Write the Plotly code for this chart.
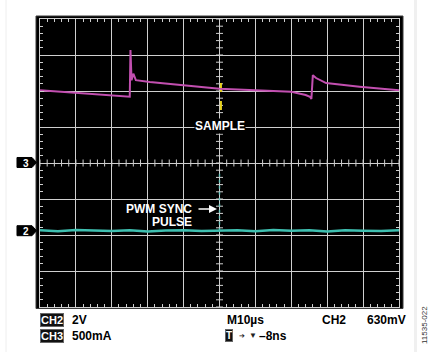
import plotly.graph_objects as go
import numpy as np

# ---------------- data ----------------
# time base: 10 us/div, trigger at screen centre
time_range_us = [-50, 50]

# CH3: inductor current (A), 500 mA/div
ch3_scale = 0.5
ch3_ref_div = 4.02
ch3_t_us = [-50, -40, -30, -27, -25.0, -24.8, -24.5, -24.0, -23.3, -19.4, -11, -5.4,
            0, 10, 20, 24, 25.2, 25.6, 26.0, 26.9, 29.7, 39, 43, 50]
ch3_amp = [1.00, 0.96, 0.93, 0.915, 0.91, 1.56, 1.14, 1.23, 1.14, 1.115, 1.07, 1.045,
           1.02, 1.00, 0.98, 0.935, 0.91, 0.88, 1.21, 1.17, 1.10, 1.05, 1.035, 1.00]

# CH2: PWM sync (V), 2 V/div
ch2_scale = 2.0
ch2_ref_div = 2.12
ch2_t_us = [-50, -45, -40, -35, -30, -25, -20, -15, -10, -5, 0, 5, 10, 15, 20, 25, 30, 35, 40, 45, 50]
ch2_volt = [0.02, -0.03, 0.04, 0.0, -0.02, 0.03, -0.04, 0.01, 0.03, -0.02, 0.0,
            0.02, -0.03, 0.04, -0.01, 0.02, -0.04, 0.03, 0.0, -0.02, 0.02]
pulse_t_us = [0, 0]
pulse_volt = [0, 3.3]

# sample marker
sample_t_us = [0.4, 0.4]
sample_div = [5.47, 6.31]

# ---------------- geometry helpers ----------------
L, R, T, B = 40, 399, 19, 307
W, H = 434, 352
def px(x):
    return (x - L) / (R - L)
def py(y):
    return (B - y) / (B - T)

FONT = "Liberation Sans, Arial, sans-serif"
GRID = "#cfcfcf"

fig = go.Figure()

# centre-line ticks
fig.add_trace(go.Scatter(x=np.arange(-50, 50.01, 2), y=[4] * 51, mode="markers",
                         marker=dict(symbol="line-ns", size=5, line=dict(width=1, color=GRID)),
                         hoverinfo="skip", showlegend=False))
fig.add_trace(go.Scatter(x=[0] * 41, y=np.arange(0, 8.01, 0.2), mode="markers",
                         marker=dict(symbol="line-ew", size=5, line=dict(width=1, color=GRID)),
                         hoverinfo="skip", showlegend=False))

# PWM sync pulse (faint)
fig.add_trace(go.Scatter(x=pulse_t_us, y=[ch2_ref_div + v / ch2_scale for v in pulse_volt],
                         mode="lines", line=dict(color="rgba(80,200,190,0.75)", width=1.5, dash="dot"),
                         hoverinfo="skip", showlegend=False))
# CH2 trace
fig.add_trace(go.Scatter(x=ch2_t_us, y=[ch2_ref_div + v / ch2_scale for v in ch2_volt],
                         mode="lines", line=dict(color="#3fbfb0", width=2.5),
                         showlegend=False))
# sample marker
fig.add_trace(go.Scatter(x=sample_t_us, y=sample_div, mode="lines",
                         line=dict(color="#e6d21e", width=2, dash="dash"), showlegend=False))
# CH3 trace
fig.add_trace(go.Scatter(x=ch3_t_us, y=[ch3_ref_div + a / ch3_scale for a in ch3_amp],
                         mode="lines", line=dict(color="#c24fb0", width=2), showlegend=False))

axis_common = dict(showgrid=True, gridcolor=GRID, gridwidth=1, zeroline=False,
                   showticklabels=False, showline=True, linecolor=GRID, linewidth=1,
                   mirror="ticks", ticks="inside", ticklen=4, tickcolor=GRID,
                   fixedrange=True)
fig.update_xaxes(range=time_range_us, dtick=10, tick0=0,
                 minor=dict(dtick=2, ticks="inside", ticklen=3, tickcolor=GRID, showgrid=False),
                 **axis_common)
fig.update_yaxes(range=[0, 8], dtick=1, tick0=0,
                 minor=dict(dtick=0.2, ticks="inside", ticklen=3, tickcolor=GRID, showgrid=False),
                 **axis_common)

shapes = []
# black scope frame
shapes.append(dict(type="rect", xref="paper", yref="paper", layer="below",
                   x0=px(36), x1=px(403), y0=py(308.5), y1=py(16),
                   fillcolor="black", line=dict(color="#3a3a3a", width=1)))
# faint page edges
shapes.append(dict(type="line", xref="paper", yref="paper", x0=px(6), x1=px(6), y0=py(0), y1=py(352),
                   line=dict(color="#eeeeee", width=1)))
shapes.append(dict(type="line", xref="paper", yref="paper", x0=px(415.5), x1=px(415.5), y0=py(0), y1=py(352),
                   line=dict(color="#f0f0f0", width=3)))
# channel reference markers
def pent(yc):
    pts = [(17, yc - 5), (32, yc - 5), (36.5, yc), (32, yc + 5), (17, yc + 5)]
    return "M " + " L ".join(f"{px(x):.5f},{py(y):.5f}" for x, y in pts) + " Z"
for yc in (162.5, 230.7):
    shapes.append(dict(type="path", xref="paper", yref="paper", path=pent(yc),
                       fillcolor="black", line=dict(color="black", width=1)))

ann = []
def text(x, y, s, size=12, color="black", xanchor="left", **kw):
    ann.append(dict(xref="paper", yref="paper", x=px(x), y=py(y), text=s, showarrow=False,
                    xanchor=xanchor, yanchor="middle",
                    font=dict(family=FONT, size=size, color=color), **kw))

text(26, 163, "<b>3</b>", size=10, color="white", xanchor="center")
text(26, 231, "<b>2</b>", size=10, color="white", xanchor="center")

text(220, 126.5, "<b>SAMPLE</b>", size=12, color="white", xanchor="center",
     bgcolor="black", borderpad=0)
text(194, 209, "<b>PWM SYNC</b>", size=12, color="white", xanchor="right")
text(194, 222, "<b>PULSE</b>", size=12, color="white", xanchor="right")
ann.append(dict(xref="paper", yref="paper", x=px(217), y=py(209), ax=-20, ay=0,
                axref="pixel", ayref="pixel", text="", showarrow=True,
                arrowhead=2, arrowsize=1, arrowwidth=1.6, arrowcolor="white"))

# bottom readouts
text(40, 320, "<b>CH2</b>", size=11, color="white", bgcolor="#111111",
     bordercolor="#666666", borderwidth=1, borderpad=0)
text(70, 320, "<b>2V</b>", size=12)
text(40, 335.5, "<b>CH3</b>", size=11, color="white", bgcolor="#111111",
     bordercolor="#666666", borderwidth=1, borderpad=0)
text(70, 335.5, "<b>500mA</b>", size=12)
text(224.5, 320, "<b>M10µs</b>", size=12)
text(225, 335.5, "<b>T</b>", size=10, color="white", bgcolor="#111111",
     bordercolor="#666666", borderwidth=1, borderpad=0)
text(237, 335.5, "➔", size=7, color="#222222")
text(247, 335.5, "▼", size=8, color="#222222")
text(257, 335.5, "<b>–8ns</b>", size=12)
text(320, 320, "<b>CH2</b>", size=12)
text(408, 320, "<b>630mV</b>", size=12, xanchor="right")
ann.append(dict(xref="paper", yref="paper", x=px(424), y=py(325), text="11535-022",
                showarrow=False, textangle=-90, xanchor="center", yanchor="middle",
                font=dict(family=FONT, size=8, color="#333333")))

fig.update_layout(width=W, height=H, margin=dict(l=L, r=W - R, t=T, b=H - B),
                  paper_bgcolor="white", plot_bgcolor="black",
                  shapes=shapes, annotations=ann, showlegend=False,
                  font=dict(family=FONT))

fig.write_html("out.html")
